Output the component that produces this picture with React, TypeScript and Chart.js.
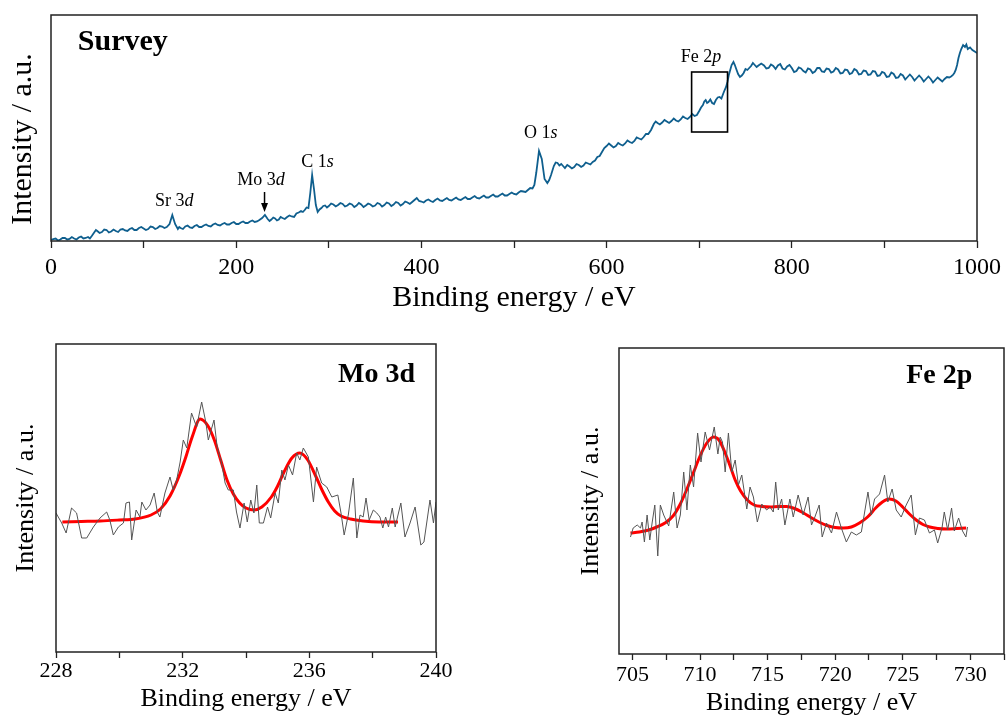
import React, { useEffect, useRef } from 'react';
import { Chart, registerables } from 'chart.js';
Chart.register(...registerables);

const SERIF = '"Liberation Serif", "Times New Roman", serif';

// ---------- Survey spectrum ----------
const surveyEnergy = [
  0, 2.5, 5, 7.5, 10, 12.5, 15, 17.5, 20, 22.5,
  25, 27.5, 30, 32.5, 35, 37.5, 40, 42, 44, 47,
  48.5, 50, 52.5, 55, 57.5, 60, 62.5, 65, 67.5, 70,
  72.5, 75, 77.5, 80, 82.5, 85, 87.5, 90, 92.5, 95,
  97.5, 100, 102.5, 105, 107.5, 110, 112.5, 115, 117.5, 120,
  122.5, 125, 128, 131, 134, 137, 138.5, 140, 142.5, 145,
  147.5, 150, 152.5, 155, 157.5, 160, 162.5, 165, 167.5, 170,
  172.5, 175, 177.5, 180, 182.5, 185, 187.5, 190, 192.5, 195,
  197.5, 200, 202.5, 205, 207.5, 210, 212.5, 215, 217.5, 220,
  222.5, 225, 228, 231, 234, 236, 238, 240, 242, 244,
  246, 248, 250, 252.5, 255, 257.5, 260, 262.5, 265, 267.5,
  270, 272, 274, 276, 278, 280, 282, 284, 286, 288,
  290, 292, 294, 296, 298, 300, 302.5, 305, 307.5, 310,
  312.5, 315, 317.5, 320, 322.5, 325, 327.5, 330, 332.5, 335,
  337.5, 340, 342.5, 345, 347.5, 350, 352.5, 355, 357.5, 360,
  362.5, 365, 367.5, 370, 372.5, 375, 377.5, 380, 382.5, 385,
  387.5, 390, 392.5, 395, 397.5, 400, 402.5, 405, 407.5, 410,
  412.5, 415, 417.5, 420, 422.5, 425, 427.5, 430, 432.5, 435,
  437.5, 440, 442.5, 445, 447.5, 450, 452.5, 455, 457.5, 460,
  462.5, 465, 467.5, 470, 472.5, 475, 477.5, 480, 482.5, 485,
  487.5, 490, 492.5, 495, 497.5, 500, 502.5, 505, 507.5, 510,
  512.5, 515, 517.5, 520, 522, 524, 527, 530, 533, 536,
  538, 540, 543, 545, 547, 549, 551, 553, 555, 557.5,
  560, 562.5, 565, 567.5, 570, 572.5, 575, 577.5, 580, 582.5,
  585, 587.5, 590, 592.5, 595, 597.5, 600, 602.5, 605, 607.5,
  610, 612.5, 615, 617.5, 620, 622.5, 625, 627.5, 630, 632.5,
  635, 637.5, 640, 642.5, 645, 648, 651, 653, 655, 657.5,
  660, 662.5, 665, 667.5, 670, 672.5, 675, 677.5, 680, 682.5,
  685, 687.5, 690, 692.5, 695, 697.5, 700, 702, 704, 705.5,
  707, 708.5, 710, 712, 714, 716, 718, 720, 722, 724,
  726, 727.5, 729, 730.5, 732, 733.5, 735, 737, 738.5, 740,
  742, 744, 746, 748, 750, 752, 754, 756, 758, 760,
  762, 764, 767, 770, 772.5, 775, 777.5, 780, 782.5, 785,
  787.5, 790, 792.5, 795, 797.5, 800, 802.5, 805, 807.5, 810,
  812.5, 815, 817.5, 820, 822.5, 825, 827.5, 830, 832.5, 835,
  837.5, 840, 842.5, 845, 847.5, 850, 852.5, 855, 857.5, 860,
  862.5, 865, 867.5, 870, 872.5, 875, 877.5, 880, 882.5, 885,
  887.5, 890, 892.5, 895, 897.5, 900, 902.5, 905, 907.5, 910,
  912.5, 915, 917.5, 920, 922.5, 925, 927.5, 930, 932.5, 935,
  937.5, 940, 942.5, 945, 947.5, 950, 952.5, 955, 957.5, 960,
  962.5, 965, 967.5, 970, 972, 974, 975.5, 977, 978.5, 980,
  981.5, 983, 985, 987, 988.5, 990, 992.5, 995, 997.5, 1000,
];
const surveyIntensity = [
  1, 2, 2.5, 0.5, 1.5, 3, 3, 1.5, 2, 4,
  2.5, 1.5, 3.5, 4.5, 2.5, 3, 4, 2.5, 5, 9,
  11, 10, 8, 9, 11.5, 11, 8.5, 9.5, 11.5, 10,
  9, 11.5, 12, 10.5, 10, 12, 13, 11, 11, 13,
  14, 12.5, 11, 12, 14.5, 14, 12, 13, 15, 14.5,
  13, 14, 17, 26, 17, 12, 14, 13, 12, 14.5,
  15.5, 13.5, 13, 15, 16, 14, 14, 15.5, 16.5, 15,
  14.5, 16.5, 17.5, 16, 15.5, 17, 18, 16.5, 16.5, 18,
  19, 17, 17, 18.5, 19.5, 18, 18, 19.5, 20.5, 19,
  19.5, 21, 23, 26, 22, 20, 21.5, 23.5, 22.5, 20.5,
  21.5, 24, 23, 22, 24, 25.5, 24.5, 24, 27.5, 28.5,
  30, 29, 31, 33.5, 33, 48, 66, 52, 36, 29,
  31.5, 33, 35, 35.5, 33.5, 35, 37.5, 36.5, 34.5, 36,
  38, 37, 34.5, 35.5, 37.5, 36.5, 34, 35.5, 38, 36.5,
  34, 35.5, 37.5, 36.5, 34.5, 35.5, 38, 37, 34.5, 36,
  38.5, 37.5, 35, 36.5, 39, 38, 35.5, 37, 39.5, 38.5,
  37, 39, 41, 43, 40, 39.5, 38.5, 40.5, 41.5, 40,
  39, 41, 42.5, 40.5, 40, 41.5, 43, 41, 40.5, 42,
  43.5, 41.5, 41, 42.5, 44, 42, 42, 43.5, 45, 43,
  42.5, 44, 45.5, 43.5, 43.5, 45, 46.5, 44.5, 44.5, 46,
  47.5, 45.5, 45.5, 47, 48.5, 47, 46.5, 48.5, 50, 49.5,
  49, 51, 53, 52.5, 56, 68, 90, 82, 62, 58,
  61, 66, 75, 78.5, 78, 75.5, 77, 75, 73, 76,
  74.5, 72.5, 74, 77, 76, 74, 75.5, 78.5, 77.5, 76.5,
  79, 80.5, 84, 85, 89, 93, 95, 97.5, 95.5, 93.5,
  95, 98, 96.5, 95.5, 97.5, 100.5, 99, 98, 100, 103.5,
  102.5, 101.5, 104, 107, 107, 111, 117, 119.5, 118, 116.5,
  118.5, 121, 119.5, 118, 120, 122.5, 120.5, 119.5, 121.5, 124.5,
  123, 122, 124, 127, 125, 126, 130, 133.5, 136, 139.5,
  141, 138, 139, 141.5, 138, 137, 141, 143.5, 144, 142.5,
  147.5, 151, 154, 159, 166, 171, 176, 179, 176, 172,
  167, 164, 165.5, 168, 172, 171, 173, 175, 178, 176,
  174, 175.5, 177.5, 175.5, 172.5, 173, 176.5, 175, 172, 175.5,
  177, 172.5, 171.5, 174.5, 176, 173, 169, 170, 173.5, 172.5,
  170, 168.5, 172.5, 171.5, 168, 169.5, 173, 173, 169.5, 169,
  172.5, 172, 168.5, 169.5, 173, 171.5, 167.5, 168, 171.5, 171,
  167, 168, 172, 170.5, 166.5, 167, 170.5, 170, 166, 166.5,
  170, 169.5, 165, 165.5, 169, 168, 164, 164.5, 168.5, 167,
  163, 163.5, 167, 165.5, 161.5, 164, 166.5, 164, 160.5, 163,
  165.5, 163, 159.5, 162, 164.5, 162, 158.5, 161, 163.5, 161.5,
  159.5, 162, 164, 163.5, 164.5, 166, 168, 171, 176, 183,
  188, 192, 196, 194, 196.5, 192, 193.5, 191, 189.5, 188,
];
const surveyTickValues = [0, 100, 200, 300, 400, 500, 600, 700, 800, 900, 1000];
const surveyTickLabels = ['0', '', '200', '', '400', '', '600', '', '800', '', '1000'];
const surveyPeaks = [
  { text: 'Sr 3', italic: 'd', energy: 133, level: 35 },
  { text: 'Mo 3', italic: 'd', energy: 226.8, level: 56 },
  { text: 'C 1', italic: 's', energy: 287.7, level: 74 },
  { text: 'O 1', italic: 's', energy: 529, level: 103 },
  { text: 'Fe 2', italic: 'p', energy: 702, level: 179 },
];

// ---------- Mo 3d ----------
const moEnergy = [
  228.0, 228.18, 228.32, 228.49, 228.65, 228.81, 228.97, 229.18, 229.39, 229.6,
  229.7, 229.81, 229.97, 230.13, 230.21, 230.32, 230.39, 230.53, 230.65, 230.71,
  230.84, 230.97, 231.1, 231.2, 231.28, 231.44, 231.6, 231.7, 231.81, 231.92,
  232.02, 232.13, 232.28, 232.44, 232.6, 232.73, 232.81, 232.99, 233.09, 233.23,
  233.34, 233.44, 233.6, 233.7, 233.81, 233.94, 234.04, 234.15, 234.25, 234.34,
  234.42, 234.55, 234.68, 234.78, 234.92, 235.02, 235.13, 235.23, 235.34, 235.47,
  235.6, 235.7, 235.81, 235.97, 236.13, 236.23, 236.39, 236.55, 236.71, 236.9,
  237.0, 237.1, 237.23, 237.39, 237.5, 237.6, 237.7, 237.79, 237.89, 238.02,
  238.13, 238.23, 238.32, 238.41, 238.5, 238.62, 238.71, 238.89, 239.02, 239.18,
  239.34, 239.52, 239.62, 239.81, 239.92, 240.0,
];
const moCounts = [
  139, 129, 119, 144, 139, 114, 114, 125, 134, 140,
  132, 117, 125, 129, 149, 150, 112, 142, 135, 150,
  142, 147, 159, 140, 135, 159, 175, 162, 172, 190,
  212, 204, 239, 225, 250, 230, 212, 232, 205, 189,
  169, 162, 162, 140, 124, 149, 130, 152, 139, 167,
  129, 129, 145, 134, 159, 149, 182, 172, 187, 177,
  199, 192, 204, 195, 150, 185, 169, 165, 155, 157,
  139, 117, 137, 174, 114, 137, 135, 154, 132, 142,
  139, 135, 124, 135, 125, 144, 125, 149, 115, 129,
  145, 107, 110, 152, 129, 150,
];
const moFitEnergy = [
  228.2, 228.8, 229.4, 230.0, 230.5, 231.0, 231.3, 231.6, 231.9, 232.1,
  232.3, 232.55, 232.8, 233.0, 233.2, 233.4, 233.6, 233.8, 234.0, 234.25,
  234.5, 234.8, 235.0, 235.2, 235.45, 235.7, 235.95, 236.2, 236.4, 236.6,
  236.8, 237.0, 237.3, 237.7, 238.2, 238.8,
];
const moFitCounts = [
  130, 130.5, 131, 132, 133, 137, 143, 156, 177, 195,
  215, 233, 226, 212, 192, 172, 158, 149, 144, 142,
  145, 155, 166, 180, 194, 199, 192, 176, 162, 150,
  141, 136, 133, 131, 130, 130,
];
const moTickValues = [228, 230, 232, 234, 236, 238, 240];
const moTickLabels = ['228', '', '232', '', '236', '', '240'];

// ---------- Fe 2p ----------
const feEnergy = [
  704.85, 705.05, 705.35, 705.59, 705.71, 705.88, 706.08, 706.28, 706.45, 706.65,
  706.87, 707.06, 707.31, 707.68, 708.05, 708.3, 708.54, 708.79, 709.03, 709.28,
  709.52, 709.82, 710.07, 710.38, 710.7, 711.05, 711.32, 711.49, 711.66, 711.86,
  712.1, 712.35, 712.6, 712.84, 713.09, 713.46, 713.7, 713.95, 714.24, 714.57,
  714.93, 715.18, 715.42, 715.6, 715.79, 716.04, 716.28, 716.65, 716.9, 717.26,
  717.63, 718.0, 718.25, 718.5, 718.82, 719.04, 719.36, 719.73, 720.1, 720.46,
  720.83, 721.2, 721.57, 721.94, 722.43, 722.67, 722.92, 723.29, 723.66, 723.9,
  724.22, 724.52, 724.89, 725.26, 725.63, 725.94, 726.24, 726.61, 726.98, 727.35,
  727.59, 727.91, 728.08, 728.33, 728.62, 728.82, 729.14, 729.43, 729.68, 729.8,
];
const feCounts = [
  117, 126, 129, 126, 132, 112, 139, 114, 131, 149,
  98, 149, 139, 128, 162, 126, 139, 182, 144, 189,
  167, 221, 192, 222, 204, 227, 200, 217, 212, 182,
  221, 182, 194, 169, 179, 145, 167, 157, 132, 150,
  144, 147, 142, 172, 144, 155, 129, 155, 137, 159,
  139, 157, 129, 137, 149, 117, 131, 121, 142, 126,
  112, 122, 119, 122, 162, 139, 155, 160, 179, 152,
  165, 144, 137, 149, 159, 119, 136, 134, 121, 124,
  111, 126, 142, 124, 146, 123, 136, 123, 117, 127,
];
const feFitEnergy = [
  704.85, 705.5, 706.2, 706.8, 707.4, 708.0, 708.5, 709.0, 709.5, 710.0,
  710.5, 711.0, 711.4, 711.8, 712.2, 712.6, 713.0, 713.5, 714.0, 714.6,
  715.2, 715.8, 716.4, 717.0, 717.6, 718.2, 718.8, 719.4, 720.0, 720.6,
  721.2, 721.8, 722.4, 723.0, 723.5, 724.0, 724.5, 725.0, 725.5, 726.0,
  726.5, 727.0, 727.6, 728.3, 729.0, 729.7,
];
const feFitCounts = [
  121, 122, 124, 127, 131, 138, 149, 164, 181, 198,
  211, 217, 214, 203, 189, 174, 163, 154, 149, 147.5,
  147, 147.5, 147.5, 145.5, 141.5, 136.5, 132, 128.5, 126.5, 126,
  127, 131, 137, 146, 152, 155, 153, 147, 140, 134,
  129.5, 127, 125.5, 125, 125.5, 126,
];
const feTickValues = [705, 707.5, 710, 712.5, 715, 717.5, 720, 722.5, 725, 727.5, 730, 732.5];
const feTickLabels = ['705', '', '710', '', '715', '', '720', '', '725', '', '730', ''];

// ---------- helpers ----------
const pts = (xs: number[], ys: number[]) => xs.map((x, i) => ({ x, y: ys[i] }));

function xAxis(
  min: number, max: number, values: number[], labels: string[],
  tickSize: number, titleSize: number, axisHeight: number, tickPad: number,
  titlePad: number, tickLen: number
) {
  return {
    type: 'linear', position: 'bottom', min, max,
    afterBuildTicks: (s: any) => { s.ticks = values.map((v) => ({ value: v })); },
    afterFit: (s: any) => { s.height = axisHeight; },
    ticks: {
      autoSkip: false, maxRotation: 0, minRotation: 0, padding: tickPad, color: '#000',
      font: { family: SERIF, size: tickSize },
      callback: (v: any) => { const i = values.indexOf(Number(v)); return i >= 0 ? labels[i] : ''; },
    },
    grid: {
      display: true, drawOnChartArea: false, drawTicks: true, tickLength: tickLen,
      tickWidth: 1.3, tickColor: '#222', color: '#222',
    },
    border: { display: false },
    title: {
      display: true, text: 'Binding energy / eV', color: '#000',
      font: { family: SERIF, size: titleSize }, padding: { top: 0, bottom: titlePad },
    },
  };
}

function yAxis(max: number, width: number, titleSize: number, titlePad: number, show: boolean) {
  return {
    type: 'linear', min: 0, max,
    afterFit: (s: any) => { s.width = width; },
    ticks: { display: false },
    grid: { display: false },
    border: { display: false },
    title: {
      display: show, text: 'Intensity / a.u.', color: '#000',
      font: { family: SERIF, size: titleSize }, padding: { top: titlePad, bottom: 0 },
    },
  };
}

const framePlugin = {
  id: 'frame',
  afterDraw(chart: any) {
    const { ctx, chartArea } = chart;
    const { left, top, right, bottom } = chartArea;
    ctx.save();
    ctx.strokeStyle = '#222';
    ctx.lineWidth = 1.5;
    ctx.strokeRect(left, top, right - left, bottom - top);
    ctx.restore();
  },
};

function drawMixed(ctx: CanvasRenderingContext2D, normal: string, italic: string, cx: number, baseline: number, size: number) {
  ctx.font = `${size}px ${SERIF}`;
  const w1 = ctx.measureText(normal).width;
  ctx.font = `italic ${size}px ${SERIF}`;
  const w2 = ctx.measureText(italic).width;
  const x0 = cx - (w1 + w2) / 2;
  ctx.textAlign = 'left';
  ctx.textBaseline = 'alphabetic';
  ctx.font = `${size}px ${SERIF}`;
  ctx.fillText(normal, x0, baseline);
  ctx.font = `italic ${size}px ${SERIF}`;
  ctx.fillText(italic, x0 + w1, baseline);
}

const surveyLabelsPlugin = {
  id: 'surveyLabels',
  afterDraw(chart: any) {
    const { ctx, scales } = chart;
    const x = scales.x, y = scales.y;
    ctx.save();
    ctx.fillStyle = '#000';
    ctx.strokeStyle = '#000';
    ctx.font = `bold 30px ${SERIF}`;
    ctx.textAlign = 'left';
    ctx.textBaseline = 'alphabetic';
    ctx.fillText('Survey', x.getPixelForValue(29), y.getPixelForValue(191));
    for (const p of surveyPeaks) {
      drawMixed(ctx, p.text, p.italic, x.getPixelForValue(p.energy), y.getPixelForValue(p.level), 18);
    }
    const ax = x.getPixelForValue(230.6);
    const ay1 = y.getPixelForValue(49);
    const ay2 = y.getPixelForValue(29);
    ctx.lineWidth = 1.5;
    ctx.beginPath(); ctx.moveTo(ax, ay1); ctx.lineTo(ax, ay2 - 6); ctx.stroke();
    ctx.beginPath(); ctx.moveTo(ax - 3.5, ay2 - 9); ctx.lineTo(ax + 3.5, ay2 - 9); ctx.lineTo(ax, ay2); ctx.closePath(); ctx.fill();
    const bx1 = x.getPixelForValue(691.8), bx2 = x.getPixelForValue(730.6);
    const by1 = y.getPixelForValue(169), by2 = y.getPixelForValue(109);
    ctx.lineWidth = 1.6;
    ctx.strokeRect(bx1, by1, bx2 - bx1, by2 - by1);
    ctx.translate(23, 139);
    ctx.rotate(-Math.PI / 2);
    ctx.font = `30px ${SERIF}`;
    ctx.textAlign = 'center';
    ctx.textBaseline = 'middle';
    ctx.fillText('Intensity / a.u.', 0, 0);
    ctx.restore();
  },
};

function panelLabel(id: string, text: string, energy: number, level: number) {
  return {
    id,
    afterDraw(chart: any) {
      const { ctx, scales } = chart;
      ctx.save();
      ctx.fillStyle = '#000';
      ctx.font = `bold 28px ${SERIF}`;
      ctx.textAlign = 'right';
      ctx.textBaseline = 'alphabetic';
      ctx.fillText(text, scales.x.getPixelForValue(energy), scales.y.getPixelForValue(level));
      ctx.restore();
    },
  };
}

function makeSurvey(canvas: HTMLCanvasElement) {
  return new Chart(canvas, {
    type: 'line',
    data: {
      datasets: [{
        data: pts(surveyEnergy, surveyIntensity),
        borderColor: '#0f5f8e', borderWidth: 1.8, pointRadius: 0, tension: 0, fill: false,
      }],
    },
    options: {
      responsive: false, animation: false,
      layout: { padding: { left: 0, top: 15, right: 27, bottom: 0 } },
      plugins: { legend: { display: false }, tooltip: { enabled: false } },
      scales: {
        x: xAxis(0, 1000, surveyTickValues, surveyTickLabels, 24, 30, 75, 5, 0, 7) as any,
        y: yAxis(226, 51, 30, 5, false) as any,
      },
    },
    plugins: [framePlugin, surveyLabelsPlugin],
  } as any);
}

function makeMo(canvas: HTMLCanvasElement) {
  return new Chart(canvas, {
    type: 'line',
    data: {
      datasets: [
        { data: pts(moEnergy, moCounts), borderColor: '#555', borderWidth: 1, pointRadius: 0, tension: 0, fill: false },
        { data: pts(moFitEnergy, moFitCounts), borderColor: '#ff0000', borderWidth: 3, pointRadius: 0, cubicInterpolationMode: 'monotone', fill: false },
      ],
    },
    options: {
      responsive: false, animation: false,
      layout: { padding: { left: 0, top: 24, right: 34, bottom: 0 } },
      plugins: { legend: { display: false }, tooltip: { enabled: false } },
      scales: {
        x: xAxis(228, 240, moTickValues, moTickLabels, 22, 26, 63, 0, 0, 6) as any,
        y: yAxis(308, 56, 26, 10.4, true) as any,
      },
    },
    plugins: [framePlugin, panelLabel('moLabel', 'Mo 3d', 239.34, 270)],
  } as any);
}

function makeFe(canvas: HTMLCanvasElement) {
  return new Chart(canvas, {
    type: 'line',
    data: {
      datasets: [
        { data: pts(feEnergy, feCounts), borderColor: '#555', borderWidth: 1, pointRadius: 0, tension: 0, fill: false },
        { data: pts(feFitEnergy, feFitCounts), borderColor: '#ff0000', borderWidth: 3, pointRadius: 0, cubicInterpolationMode: 'monotone', fill: false },
      ],
    },
    options: {
      responsive: false, animation: false,
      layout: { padding: { left: 0, top: 28, right: 1, bottom: 0 } },
      plugins: { legend: { display: false }, tooltip: { enabled: false } },
      scales: {
        x: xAxis(704, 732.5, feTickValues, feTickLabels, 22, 26, 61, 2, -3.5, 6) as any,
        y: yAxis(306, 59, 26, 15.6, true) as any,
      },
    },
    plugins: [framePlugin, panelLabel('feLabel', 'Fe 2p', 730.15, 271)],
  } as any);
}

function ChartCanvas(props: { left: number; top: number; width: number; height: number; make: (c: HTMLCanvasElement) => Chart }) {
  const ref = useRef<HTMLCanvasElement>(null);
  useEffect(() => {
    const chart = props.make(ref.current as HTMLCanvasElement);
    return () => chart.destroy();
  }, []);
  return (
    <canvas
      ref={ref}
      width={props.width}
      height={props.height}
      style={{ position: 'absolute', left: props.left, top: props.top, width: props.width, height: props.height, display: 'block' }}
    />
  );
}

export default function App() {
  return (
    <div style={{ position: 'absolute', left: 0, top: 0, width: 1006, height: 715, overflow: 'hidden', background: '#fff' }}>
      <ChartCanvas left={0} top={0} width={1006} height={316} make={makeSurvey} />
      <ChartCanvas left={0} top={320} width={470} height={395} make={makeMo} />
      <ChartCanvas left={560} top={320} width={446} height={395} make={makeFe} />
    </div>
  );
}
